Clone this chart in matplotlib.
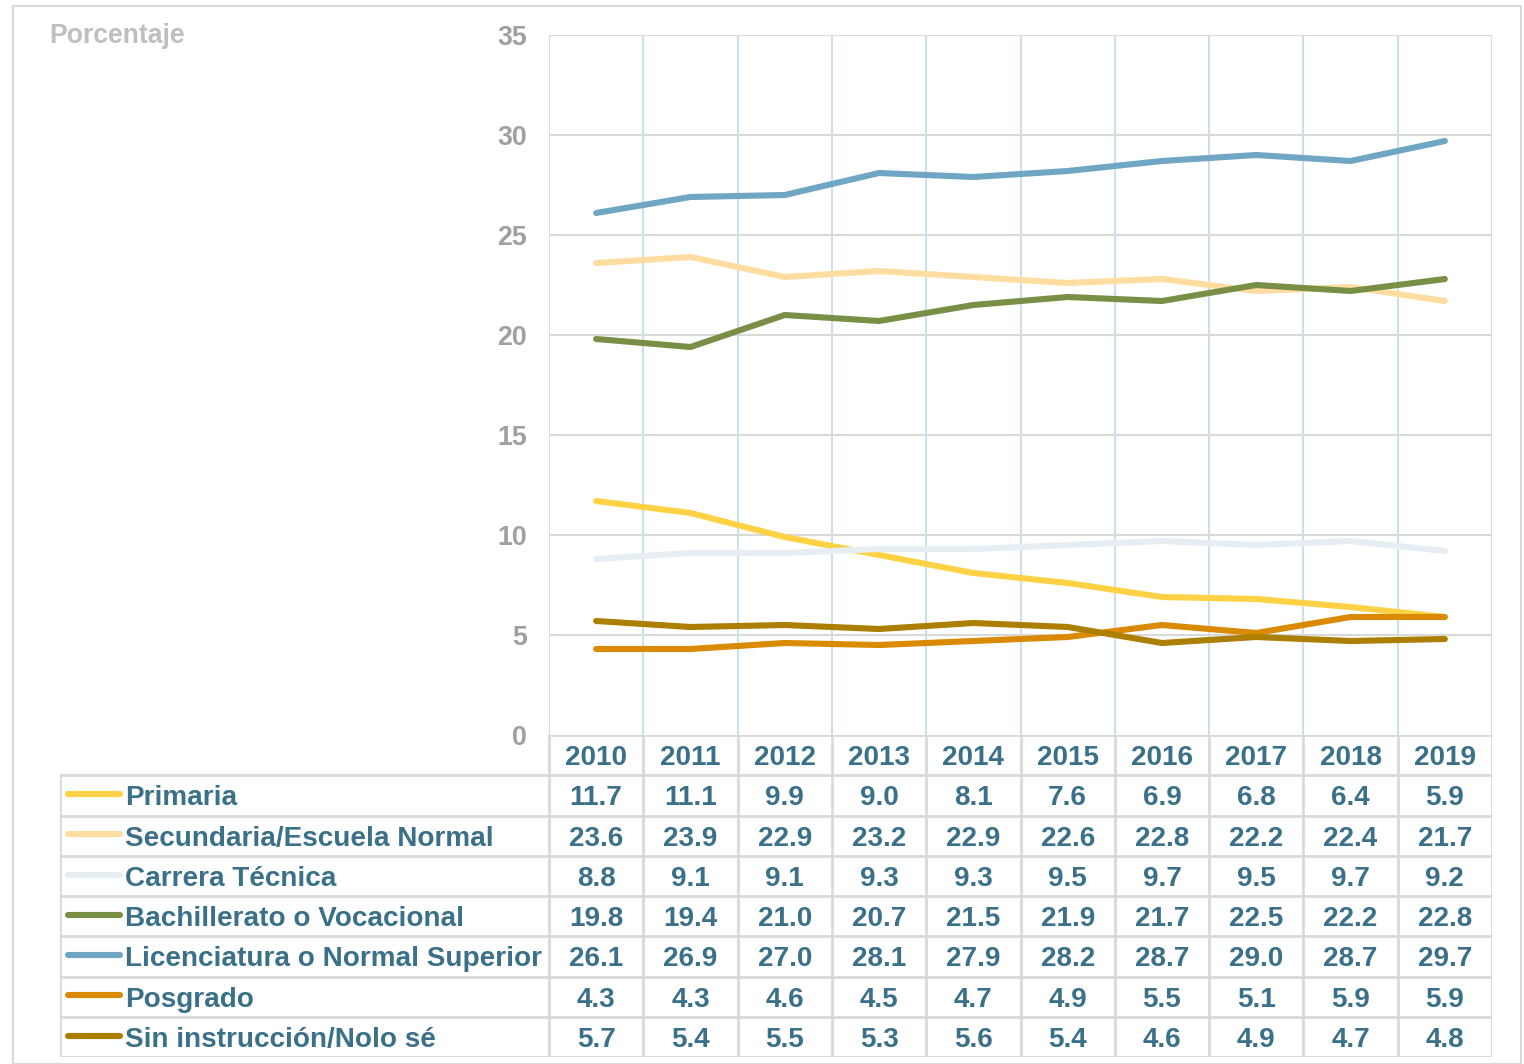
import numpy as np
import matplotlib
matplotlib.use("Agg")
from matplotlib import pyplot as plt
from matplotlib.patches import Rectangle

plt.rcParams['font.family'] = ['Liberation Sans', 'DejaVu Sans']
plt.rcParams['font.weight'] = 'bold'

years = ["2010", "2011", "2012", "2013", "2014", "2015", "2016", "2017", "2018", "2019"]
series_names = ["Primaria", "Secundaria/Escuela Normal", "Carrera Técnica",
                "Bachillerato o Vocacional", "Licenciatura o Normal Superior",
                "Posgrado", "Sin instrucción/Nolo sé"]
primaria = [11.7, 11.1, 9.9, 9.0, 8.1, 7.6, 6.9, 6.8, 6.4, 5.9]
secundaria = [23.6, 23.9, 22.9, 23.2, 22.9, 22.6, 22.8, 22.2, 22.4, 21.7]
carrera = [8.8, 9.1, 9.1, 9.3, 9.3, 9.5, 9.7, 9.5, 9.7, 9.2]
bachillerato = [19.8, 19.4, 21.0, 20.7, 21.5, 21.9, 21.7, 22.5, 22.2, 22.8]
licenciatura = [26.1, 26.9, 27.0, 28.1, 27.9, 28.2, 28.7, 29.0, 28.7, 29.7]
posgrado = [4.3, 4.3, 4.6, 4.5, 4.7, 4.9, 5.5, 5.1, 5.9, 5.9]
sin_instruccion = [5.7, 5.4, 5.5, 5.3, 5.6, 5.4, 4.6, 4.9, 4.7, 4.8]
series_values = [primaria, secundaria, carrera, bachillerato, licenciatura, posgrado, sin_instruccion]
colors = ["#ffd245", "#ffdda0", "#e6eef3", "#7a8f46", "#6fa6c3", "#d98a00", "#ad7f00"]

text_color = "#3b7089"
grid_gray = "#d9d9d9"
grid_blue = "#cde0ea"
W, H = 1524, 1064
fs = 20.1

fig = plt.figure(figsize=(W / 100, H / 100), dpi=100)

# outer frame
fig.patches.append(Rectangle((13 / W, 0), 1508 / W, 1 - 6 / H, transform=fig.transFigure,
                             fill=False, edgecolor=grid_gray, linewidth=1.5))

# main chart
ax = fig.add_axes([549 / W, (H - 735) / H, 943 / W, 700 / H])
x = np.arange(len(years)) + 0.5
for vals, col in zip(series_values, colors):
    ax.plot(x, vals, color=col, linewidth=4.4, solid_capstyle='round', solid_joinstyle='round')
ax.set_xlim(0, 10)
ax.set_ylim(0, 35)
ax.set_yticks(range(0, 36, 5))
ax.set_xticks([])
for yv in range(5, 36, 5):
    ax.axhline(yv, color=grid_gray, linewidth=1.5, zorder=0)
for xv in range(0, 11):
    ax.axvline(xv, color=grid_blue, linewidth=1.5, zorder=0)
for s in ax.spines.values():
    s.set_visible(False)
ax.tick_params(axis='y', length=0, pad=16, labelsize=fs - 0.8, labelcolor="#a0a0a0")
for lab in ax.get_yticklabels():
    lab.set_fontweight('bold')
    lab.set_verticalalignment('center_baseline')

fig.text(49 / W, 1 - 33 / H, "Porcentaje", fontsize=fs - 0.9, color="#bfbfbf",
         fontweight='bold', va='center_baseline', ha='left')

# data table
left_w = 489 / 94.3
tab = fig.add_axes([60 / W, (H - 1057) / H, 1432 / W, 322 / H])
tab.set_xlim(-left_w, 10)
tab.set_ylim(8, 0)
tab.axis('off')
tab.plot([0, 10], [0, 0], color=grid_gray, linewidth=2)
for r in range(1, 9):
    tab.plot([-left_w, 10], [r, r], color=grid_gray, linewidth=2)
tab.plot([-left_w, -left_w], [1, 8], color=grid_gray, linewidth=2)
for c in range(0, 11):
    tab.plot([c, c], [0, 8], color=grid_gray, linewidth=2)

for i, yr in enumerate(years):
    tab.text(i + 0.5, 0.5, yr, ha='center', va='center_baseline', fontsize=fs,
             color=text_color, fontweight='bold')
for r, (name, vals, col) in enumerate(zip(series_names, series_values, colors)):
    yc = r + 1.5
    tab.plot([-left_w + 0.08, -left_w + 0.64], [yc - 0.03, yc - 0.03], color=col, linewidth=4.4,
             solid_capstyle='round')
    tab.text(-left_w + 0.69, yc, name, ha='left', va='center_baseline', fontsize=fs,
             color=text_color, fontweight='bold')
    for i, v in enumerate(vals):
        tab.text(i + 0.5, yc, "{:.1f}".format(v), ha='center', va='center_baseline', fontsize=fs,
                 color=text_color, fontweight='bold')

fig.savefig("out.png", dpi=100)
